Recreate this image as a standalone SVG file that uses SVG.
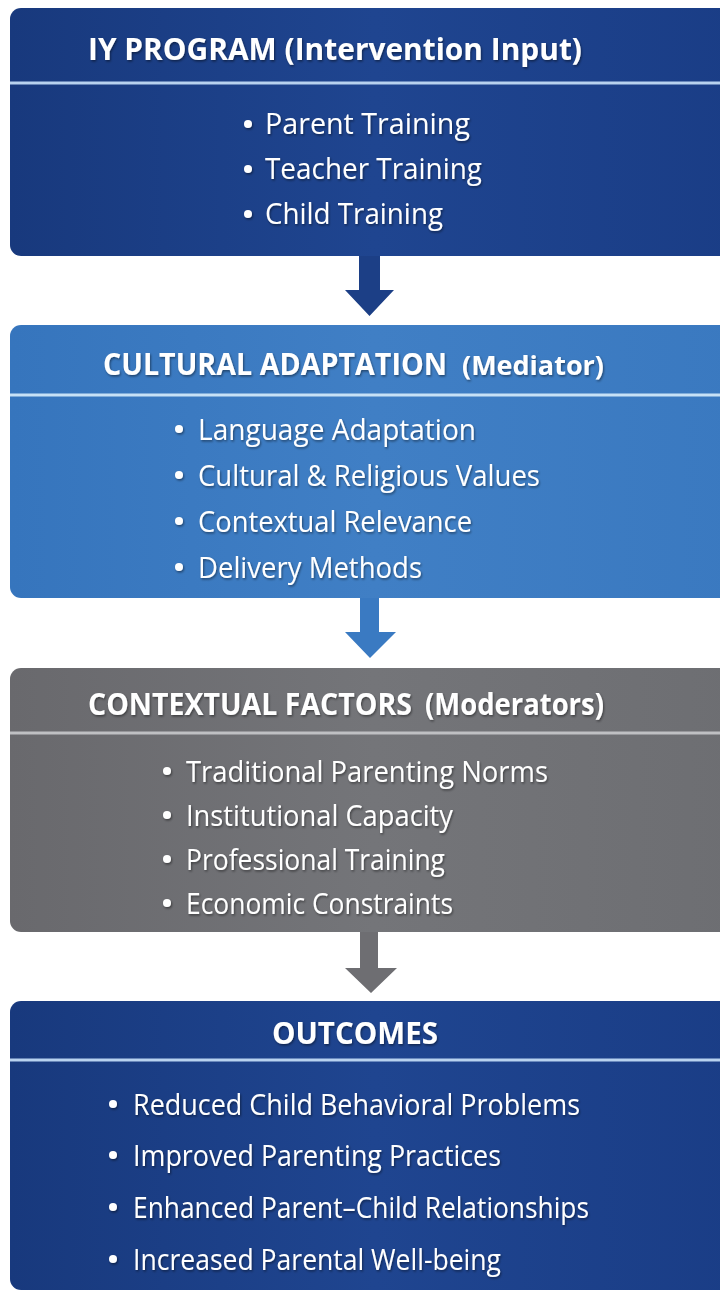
<svg xmlns="http://www.w3.org/2000/svg" width="720" height="1293" viewBox="0 0 720 1293">
  <defs>
    <linearGradient id="gNavy" x1="0" y1="0" x2="1" y2="0">
      <stop offset="0" stop-color="#18397d"/>
      <stop offset="0.5" stop-color="#1f4590"/>
      <stop offset="1" stop-color="#1a3d86"/>
    </linearGradient>
    <linearGradient id="gBlue" x1="0" y1="0" x2="1" y2="0">
      <stop offset="0" stop-color="#3675bd"/>
      <stop offset="0.5" stop-color="#407fc5"/>
      <stop offset="1" stop-color="#3a79c0"/>
    </linearGradient>
    <linearGradient id="gGray" x1="0" y1="0" x2="1" y2="0">
      <stop offset="0" stop-color="#69696d"/>
      <stop offset="0.5" stop-color="#747579"/>
      <stop offset="1" stop-color="#6d6e72"/>
    </linearGradient>
    <filter id="shadow" x="-5%" y="-20%" width="110%" height="140%">
      <feDropShadow dx="1" dy="1.5" stdDeviation="1" flood-color="#000" flood-opacity="0.45"/>
    </filter>
  </defs>
  <style>
    text { font-family: "Open Sans", "Noto Sans", "Liberation Sans", sans-serif; fill: #ffffff; }
    circle { fill: #ffffff; }
    .title { font-weight: 700; font-size: 30px; }
    .sub { font-weight: 700; font-size: 27px; }
    .item { font-weight: 400; font-size: 30px; }
    .divider { stroke-width: 3; }
  </style>

  <rect width="720" height="1293" fill="#ffffff"/>

  <!-- connectors -->
  <g id="connectors">
    <path d="M359,256 H380 V290 H394 L369.5,316 L345,290 H359 Z" fill="#1c3f86"/>
    <path d="M360,598 H379 V632 H396 L370,658 L345,632 H360 Z" fill="#3a7ac2"/>
    <path d="M360,932 H378 V968 H397 L371,993 L345,968 H360 Z" fill="#6e6e72"/>
  </g>

  <!-- node: intervention input -->
  <g id="node-iy-program">
    <rect x="10" y="8" width="730" height="248" rx="11" fill="url(#gNavy)"/>
    <line class="divider" x1="10" y1="83" x2="720" y2="83" stroke="#b8d2ef"/>
    <g filter="url(#shadow)">
      <text class="title" x="88" y="60" textLength="494" lengthAdjust="spacingAndGlyphs">IY PROGRAM (Intervention Input)</text>
      <circle cx="248" cy="124" r="4"/>
      <text class="item" x="265" y="134" textLength="205" lengthAdjust="spacingAndGlyphs">Parent Training</text>
      <circle cx="248" cy="169" r="4"/>
      <text class="item" x="265" y="179" textLength="217" lengthAdjust="spacingAndGlyphs">Teacher Training</text>
      <circle cx="248" cy="214" r="4"/>
      <text class="item" x="265" y="224" textLength="178" lengthAdjust="spacingAndGlyphs">Child Training</text>
    </g>
  </g>

  <!-- node: cultural adaptation -->
  <g id="node-cultural-adaptation">
    <rect x="10" y="325" width="730" height="273" rx="11" fill="url(#gBlue)"/>
    <line class="divider" x1="10" y1="395" x2="720" y2="395" stroke="#c7e1f6"/>
    <g filter="url(#shadow)">
      <text class="title" x="103" y="375" font-size="33" textLength="344" lengthAdjust="spacingAndGlyphs">CULTURAL ADAPTATION</text>
      <text class="sub" x="462" y="375" textLength="142" lengthAdjust="spacingAndGlyphs">(Mediator)</text>
      <circle cx="179" cy="429" r="4"/>
      <text class="item" x="198" y="440" textLength="278" lengthAdjust="spacingAndGlyphs">Language Adaptation</text>
      <circle cx="179" cy="475" r="4"/>
      <text class="item" x="198" y="486" textLength="342" lengthAdjust="spacingAndGlyphs">Cultural &amp; Religious Values</text>
      <circle cx="179" cy="521" r="4"/>
      <text class="item" x="198" y="532" textLength="274" lengthAdjust="spacingAndGlyphs">Contextual Relevance</text>
      <circle cx="179" cy="567" r="4"/>
      <text class="item" x="198" y="578" textLength="224" lengthAdjust="spacingAndGlyphs">Delivery Methods</text>
    </g>
  </g>

  <!-- node: contextual factors -->
  <g id="node-contextual-factors">
    <rect x="10" y="668" width="730" height="264" rx="11" fill="url(#gGray)"/>
    <line class="divider" x1="10" y1="733" x2="720" y2="733" stroke="#bfc0c3"/>
    <g filter="url(#shadow)">
      <text class="title" x="88" y="715" font-size="32" textLength="324" lengthAdjust="spacingAndGlyphs">CONTEXTUAL FACTORS</text>
      <text class="title" x="425" y="715" textLength="179" lengthAdjust="spacingAndGlyphs">(Moderators)</text>
      <circle cx="167" cy="771" r="4"/>
      <text class="item" x="186" y="782" textLength="362" lengthAdjust="spacingAndGlyphs">Traditional Parenting Norms</text>
      <circle cx="167" cy="815" r="4"/>
      <text class="item" x="186" y="826" textLength="267" lengthAdjust="spacingAndGlyphs">Institutional Capacity</text>
      <circle cx="167" cy="859" r="4"/>
      <text class="item" x="186" y="870" textLength="259" lengthAdjust="spacingAndGlyphs">Professional Training</text>
      <circle cx="167" cy="903" r="4"/>
      <text class="item" x="186" y="914" textLength="267" lengthAdjust="spacingAndGlyphs">Economic Constraints</text>
    </g>
  </g>

  <!-- node: outcomes -->
  <g id="node-outcomes">
    <rect x="10" y="1001" width="730" height="289" rx="11" fill="url(#gNavy)"/>
    <line class="divider" x1="10" y1="1060" x2="720" y2="1060" stroke="#b8d2ef"/>
    <g filter="url(#shadow)">
      <text class="title" x="272" y="1044" font-size="32" textLength="166" lengthAdjust="spacingAndGlyphs">OUTCOMES</text>
      <circle cx="113" cy="1104" r="4"/>
      <text class="item" x="133" y="1115" textLength="447" lengthAdjust="spacingAndGlyphs">Reduced Child Behavioral Problems</text>
      <circle cx="113" cy="1155" r="4"/>
      <text class="item" x="133" y="1166" textLength="368" lengthAdjust="spacingAndGlyphs">Improved Parenting Practices</text>
      <circle cx="113" cy="1207" r="4"/>
      <text class="item" x="133" y="1218" textLength="456" lengthAdjust="spacingAndGlyphs">Enhanced Parent–Child Relationships</text>
      <circle cx="113" cy="1259" r="4"/>
      <text class="item" x="133" y="1270" textLength="368" lengthAdjust="spacingAndGlyphs">Increased Parental Well-being</text>
    </g>
  </g>
</svg>
